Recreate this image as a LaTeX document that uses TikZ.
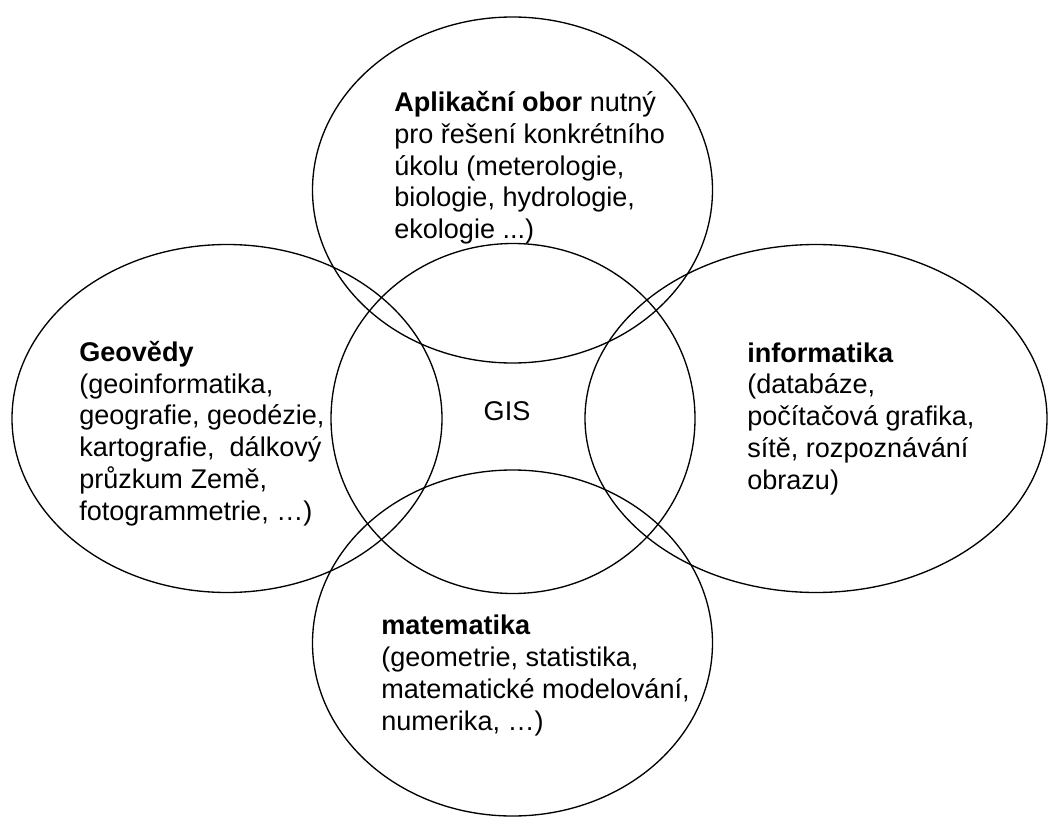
\documentclass[tikz,border=0pt]{standalone}
\usepackage{fontspec}
\setmainfont{Liberation Sans}
\usepackage{tikz}
\usetikzlibrary{positioning}
\tikzset{
  field/.style={draw=black, line width=1pt},
  % base west of a multi-line node = baseline of its last line
  fieldtext/.style={anchor=base west, align=left, inner sep=0pt,
                    font=\fontsize{20.3}{23.8}\selectfont},
  gistext/.style={anchor=base, inner sep=0pt,
                  font=\fontsize{20.3}{23.8}\selectfont},
}

\begin{document}
\begin{tikzpicture}[x=0.75pt, y=-0.75pt]
  \useasboundingbox (0,0) rectangle (1049,817);
  % ellipses: centre x / centre y / x radius / y radius
  \foreach \cx/\cy/\rx/\ry in {512.5/190/200/173, 512.5/643/200/173,
                               227/418.5/215/174, 816/418.5/231/174,
                               513/418.5/182/175}{
    \draw[field] (\cx,\cy) ellipse ({\rx} and {\ry});
  }
  % labels (placed at the baseline of the last line)
  \node[fieldtext] (apl) at (394,238.5) {\textbf{Aplikační obor} nutný\\
    pro řešení konkrétního\\ úkolu (meterologie,\\ biologie, hydrologie,\\ ekologie ...)};
  \node[fieldtext] (geo) at (79,520) {\textbf{Geovědy}\\ (geoinformatika,\\
    geografie, geodézie,\\ kartografie,~ dálkový\\ průzkum Země,\\ fotogrammetrie, …)};
  \node[fieldtext] (inf) at (747,489) {\textbf{informatika}\\ (databáze,\\
    počítačová grafika,\\ sítě, rozpoznávání\\ obrazu)};
  \node[fieldtext] (mat) at (381,730) {\textbf{matematika}\\
    (geometrie, statistika,\\ matematické modelování,\\ numerika, …)};
  \node[gistext] (gis) at (507,420) {GIS};
\end{tikzpicture}
\end{document}
